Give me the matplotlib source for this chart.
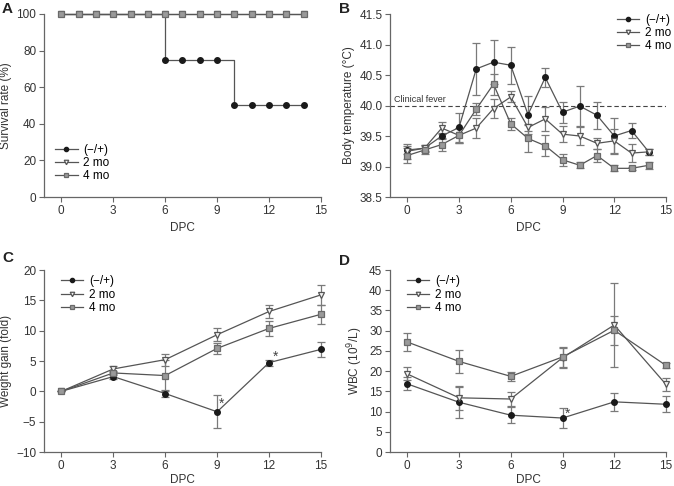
import matplotlib
matplotlib.use("Agg")
import matplotlib.pyplot as plt
from matplotlib.lines import Line2D
import numpy as np

plt.rcParams['font.family'] = ['Liberation Sans', 'DejaVu Sans']
plt.rcParams['font.size'] = 8

series = ["(\u2212/+)", "2 mo", "4 mo"]

# Panel A: survival
surv_x = list(range(0, 15))
surv_neg = [100, 100, 100, 100, 100, 100, 75, 75, 75, 75, 50, 50, 50, 50, 50]
surv_2mo = [100] * 15
surv_4mo = [100] * 15

# Panel B: body temperature
temp_x = list(range(0, 15))
temp_neg = [39.27, 39.30, 39.50, 39.64, 40.60, 40.71, 40.66, 39.85, 40.46, 39.89, 39.99, 39.84, 39.50, 39.59, 39.24]
temp_neg_err = [0.07, 0.05, 0.05, 0.24, 0.43, 0.36, 0.30, 0.31, 0.16, 0.17, 0.33, 0.22, 0.29, 0.13, 0.05]
temp_2mo = [39.25, 39.30, 39.63, 39.51, 39.63, 39.95, 40.14, 39.64, 39.78, 39.53, 39.50, 39.38, 39.42, 39.22, 39.24]
temp_2mo_err = [0.12, 0.06, 0.10, 0.12, 0.17, 0.16, 0.09, 0.05, 0.20, 0.13, 0.15, 0.09, 0.20, 0.15, 0.05]
temp_4mo = [39.18, 39.27, 39.36, 39.51, 39.94, 40.35, 39.70, 39.46, 39.34, 39.11, 39.02, 39.18, 38.97, 38.97, 39.02]
temp_4mo_err = [0.13, 0.07, 0.10, 0.12, 0.10, 0.17, 0.10, 0.22, 0.17, 0.10, 0.05, 0.10, 0.05, 0.03, 0.06]

# Panel C: weight gain
wg_x = [0, 3, 6, 9, 12, 15]
wg_neg = [0.0, 2.43, -0.36, -3.37, 4.73, 6.92]
wg_neg_err = [0.0, 0.4, 0.6, 2.7, 0.5, 1.2]
wg_2mo = [0.0, 3.69, 5.22, 9.33, 13.16, 15.9]
wg_2mo_err = [0.0, 0.5, 1.0, 1.1, 1.1, 1.6]
wg_4mo = [0.0, 3.03, 2.6, 7.08, 10.37, 12.7]
wg_4mo_err = [0.0, 0.4, 2.5, 0.9, 1.3, 1.6]

# Panel D: WBC
wbc_x = [0, 3, 6, 9, 12, 15]
wbc_neg = [16.84, 12.3, 9.1, 8.4, 12.4, 11.8]
wbc_neg_err = [1.6, 3.8, 2.0, 2.5, 2.3, 2.0]
wbc_2mo = [19.3, 13.4, 13.1, 23.3, 31.4, 16.7]
wbc_2mo_err = [1.6, 2.9, 1.7, 2.5, 10.4, 1.5]
wbc_4mo = [27.2, 22.4, 18.7, 23.5, 30.1, 21.4]
wbc_4mo_err = [2.3, 2.8, 1.2, 2.4, 3.6, 0.7]

W, H = 674, 486
fig = plt.figure(figsize=(W / 100, H / 100), dpi=100)

def ax_px(l, t, r, b):
    return fig.add_axes([l / W, 1 - b / H, (r - l) / W, (b - t) / H])

axA = ax_px(44, 14, 321, 197)
axB = ax_px(390, 14, 666, 197)
axC = ax_px(44, 270, 321, 452)
axD = ax_px(390, 270, 666, 452)

line_c = '#555555'
err_c = '#7a7a7a'
styles = [
    dict(marker='o', mfc='#1a1a1a', mec='#1a1a1a', ms=4.0),
    dict(marker='v', mfc='#f4f4f4', mec='#555555', ms=4.3, mew=0.9),
    dict(marker='s', mfc='#9a9a9a', mec='#6a6a6a', ms=3.8, mew=0.9),
]

def legend_handles():
    hs = []
    for st in styles:
        s = dict(st)
        s['ms'] = s['ms'] * 0.75
        hs.append(Line2D([], [], color=line_c, lw=0.9, **s))
    return hs

def add_legend(ax, loc, anchor):
    ax.legend(legend_handles(), series, loc=loc, bbox_to_anchor=anchor, frameon=False, fontsize=8.5,
              handlelength=1.9, handletextpad=0.5, labelspacing=0.1, borderaxespad=0, borderpad=0)

def style_axes(ax, ylim, yticks, ylabel, fmt=None, xlabelpad=4):
    ax.set_xlim(-1, 15)
    ax.set_ylim(*ylim)
    ax.set_xticks([0, 3, 6, 9, 12, 15])
    ax.set_yticks(yticks)
    if fmt:
        ax.set_yticklabels([fmt.format(v) for v in yticks])
    else:
        ax.set_yticklabels([("\u2212" + str(abs(v))) if v < 0 else str(v) for v in yticks])
    for s in ['top', 'right']:
        ax.spines[s].set_visible(False)
    for s in ['left', 'bottom']:
        ax.spines[s].set_color('#666666')
        ax.spines[s].set_linewidth(0.9)
    ax.tick_params(direction='out', length=3.5, width=0.8, color='#666666', labelsize=8.5, labelcolor='#333333', pad=2)
    ax.set_xlabel('DPC', fontsize=8.5, color='#333333', labelpad=xlabelpad)
    ax.set_ylabel(ylabel, fontsize=8.5, color='#333333', labelpad=3)

# A
for ys, st in zip([surv_neg, surv_2mo, surv_4mo], styles):
    axA.plot(surv_x, ys, drawstyle='steps-post', color=line_c, lw=0.9, clip_on=False, **st)
style_axes(axA, (0, 100), [0, 20, 40, 60, 80, 100], 'Survival rate (%)')
add_legend(axA, 'lower left', (0.04, 0.08))

# B
for ys, es, st in zip([temp_neg, temp_2mo, temp_4mo], [temp_neg_err, temp_2mo_err, temp_4mo_err], styles):
    axB.errorbar(temp_x, ys, yerr=es, color=line_c, lw=0.9, ecolor=err_c, elinewidth=0.9,
                 capsize=2.6, capthick=0.9, **st)
axB.axhline(40.0, color='#444444', lw=0.8, ls=(0, (4, 2.5)))
axB.text(-0.75, 40.03, 'Clinical fever', fontsize=6.5, color='#333333', va='bottom', ha='left')
style_axes(axB, (38.5, 41.5), [38.5, 39.0, 39.5, 40.0, 40.5, 41.0, 41.5], 'Body temperature (\u00b0C)', fmt='{:.1f}')
add_legend(axB, 'upper right', (1.02, 1.0))

# C
for ys, es, st in zip([wg_neg, wg_2mo, wg_4mo], [wg_neg_err, wg_2mo_err, wg_4mo_err], styles):
    axC.errorbar(wg_x, ys, yerr=es, color=line_c, lw=0.9, ecolor=err_c, elinewidth=0.9,
                 capsize=2.6, capthick=0.9, clip_on=False, **st)
axC.text(9.28, -2.06, '*', fontsize=10, color='#444444', ha='center', va='center')
axC.text(12.4, 5.77, '*', fontsize=10, color='#444444', ha='center', va='center')
style_axes(axC, (-10, 20), [-10, -5, 0, 5, 10, 15, 20], 'Weight gain (fold)', xlabelpad=1.5)
add_legend(axC, 'upper left', (0.06, 0.97))

# D
for ys, es, st in zip([wbc_neg, wbc_2mo, wbc_4mo], [wbc_neg_err, wbc_2mo_err, wbc_4mo_err], styles):
    axD.errorbar(wbc_x, ys, yerr=es, color=line_c, lw=0.9, ecolor=err_c, elinewidth=0.9,
                 capsize=2.6, capthick=0.9, clip_on=False, **st)
axD.text(9.3, 9.5, '*', fontsize=10, color='#444444', ha='center', va='center')
style_axes(axD, (0, 45), [0, 5, 10, 15, 20, 25, 30, 35, 40, 45], 'WBC (10$^9$/L)', xlabelpad=1.5)
add_legend(axD, 'upper left', (0.06, 0.97))

# Panel letters
for (x, y, t) in [(2, 2, 'A'), (339, 2, 'B'), (2, 251, 'C'), (339, 254, 'D')]:
    fig.text(x / W, 1 - y / H, t, fontsize=11, fontweight='bold', color='#222222', va='top', ha='left')

fig.savefig('out.png', dpi=100)
